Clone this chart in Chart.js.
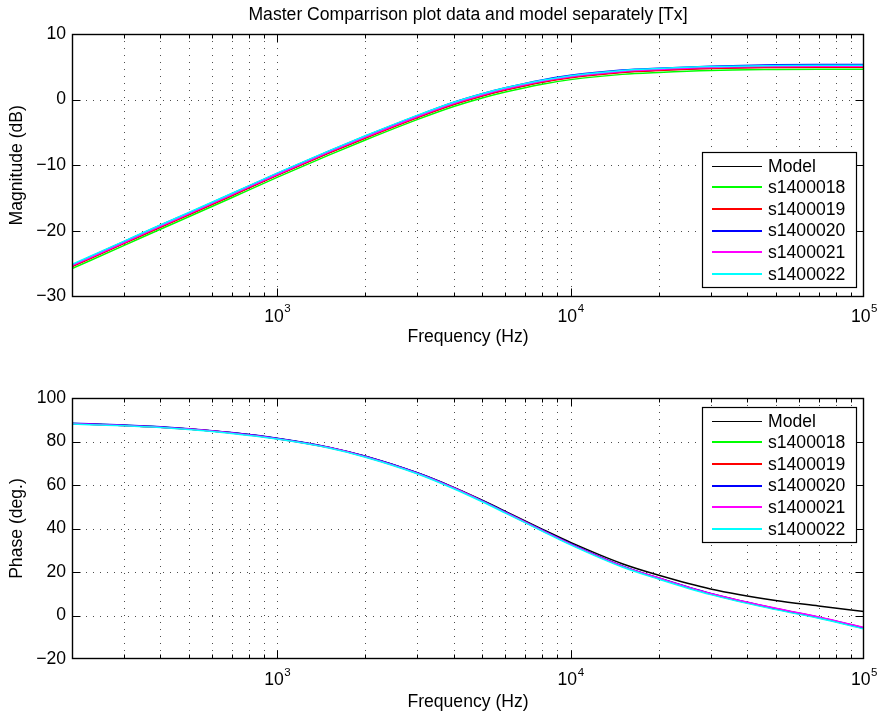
<!DOCTYPE html>
<html><head><meta charset="utf-8">
<script src="https://cdn.jsdelivr.net/npm/chart.js@4"></script>
<style>
html,body{margin:0;padding:0;background:#fff;}
#wrap{position:relative;width:880px;height:719px;background:#fff;}
.c{position:absolute;left:0;width:880px;}
</style></head><body>
<div id="wrap">
<div class="c" style="top:0;height:360px"><canvas id="mag" width="880" height="360"></canvas></div>
<div class="c" style="top:360px;height:359px"><canvas id="pha" width="880" height="359"></canvas></div>
</div>
<script>
// ---------- data ----------
const freq = [200, 300, 400, 500, 700, 1000, 1500, 2000, 3000, 4000, 5000, 6000, 8000, 10000, 15000, 20000, 30000, 50000, 70000, 100000];
const seriesNames = ['Model', 's1400018', 's1400019', 's1400020', 's1400021', 's1400022'];
const seriesColors = ['#000000', '#00ff00', '#ff0000', '#0000ff', '#ff00ff', '#00ffff'];

const magModel = [-25.4, -21.9, -19.4, -17.5, -14.6, -11.5, -8.1, -5.8, -2.7, -0.7, 0.6, 1.5, 2.7, 3.4, 4.2, 4.5, 4.8, 4.95, 5.0, 5.0];
const mag18 = [-25.75, -22.25, -19.75, -17.85, -14.95, -11.85, -8.45, -6.15, -3.05, -1.05, 0.25, 1.15, 2.35, 3.05, 3.85, 4.15, 4.45, 4.6, 4.65, 4.65];
const mag19 = [-25.45, -21.95, -19.45, -17.55, -14.65, -11.55, -8.15, -5.85, -2.75, -0.75, 0.55, 1.45, 2.65, 3.35, 4.15, 4.45, 4.75, 4.9, 4.95, 4.95];
const mag20 = [-25.2, -21.65, -19.15, -17.25, -14.35, -11.25, -7.85, -5.55, -2.45, -0.4, 0.9, 1.8, 3.0, 3.7, 4.5, 4.8, 5.1, 5.3, 5.35, 5.35];
const mag21 = [-25.3, -21.8, -19.3, -17.4, -14.5, -11.4, -8.0, -5.7, -2.6, -0.6, 0.7, 1.6, 2.8, 3.5, 4.3, 4.6, 4.9, 5.05, 5.1, 5.1];
const mag22 = [-25.1, -21.6, -19.1, -17.2, -14.3, -11.2, -7.8, -5.5, -2.4, -0.4, 0.9, 1.8, 2.95, 3.65, 4.45, 4.75, 5.05, 5.2, 5.25, 5.25];

const phaModel = [88.2, 87.4, 86.6, 85.7, 84.0, 81.4, 77.3, 73.2, 65.6, 58.9, 53.0, 47.9, 39.7, 33.6, 23.8, 18.5, 12.2, 6.9, 4.4, 1.8];
const pha18 = [88.3, 87.5, 86.7, 85.8, 84.0, 81.4, 77.3, 73.1, 65.5, 58.7, 52.7, 47.5, 39.2, 32.9, 22.7, 17.1, 10.0, 3.1, -0.9, -5.8];
const pha19 = [88.2, 87.4, 86.6, 85.7, 83.9, 81.3, 77.2, 73.0, 65.4, 58.6, 52.6, 47.4, 39.1, 32.8, 22.6, 17.0, 9.9, 3.0, -1.0, -5.9];
const pha20 = [88.4, 87.6, 86.8, 85.9, 84.1, 81.5, 77.4, 73.2, 65.6, 58.8, 52.8, 47.6, 39.3, 33.0, 22.8, 17.2, 10.1, 3.2, -0.8, -5.7];
const pha21 = [88.2, 87.4, 86.6, 85.7, 83.9, 81.3, 77.2, 73.0, 65.4, 58.6, 52.6, 47.4, 39.1, 32.8, 22.7, 17.2, 10.1, 3.3, -0.7, -5.5];
const pha22 = [88.0, 87.2, 86.4, 85.5, 83.7, 81.1, 77.0, 72.8, 65.2, 58.3, 52.3, 47.1, 38.8, 32.5, 22.3, 16.7, 9.6, 2.7, -1.3, -6.2];

const xMajorTicks = [1000, 10000, 100000];
const xMajorExp = ['3', '4', '5'];
const magTicks = [-30, -20, -10, 0, 10];
const phaTicks = [-20, 0, 20, 40, 60, 80, 100];

// ---------- rendering ----------
const FONT = '"Liberation Sans", Arial, Helvetica, sans-serif';
const FS = 17.6;
const X_MIN = 200, X_MAX = 100000;

function xGridValues() {
  const out = [];
  for (let d = 100; d < X_MAX; d *= 10) {
    for (let m = 1; m <= 9; m++) {
      const v = m * d;
      if (v > X_MIN && v < X_MAX) out.push(v);
    }
  }
  return out;
}

const bodePlugin = {
  id: 'bode',
  beforeDatasetsDraw(chart, args, opts) {
    const { ctx, chartArea: a, scales: { x, y } } = chart;
    ctx.save();
    ctx.strokeStyle = 'rgba(0,0,0,0.7)';
    ctx.lineWidth = 1;
    ctx.setLineDash([1, 6]);
    for (const v of xGridValues()) {
      const px = Math.round(x.getPixelForValue(v)) + 0.5;
      ctx.beginPath(); ctx.moveTo(px, a.top); ctx.lineTo(px, a.bottom); ctx.stroke();
    }
    for (const v of opts.yTicks) {
      if (v <= y.min || v >= y.max) continue;
      const py = Math.round(y.getPixelForValue(v)) + 0.5;
      ctx.beginPath(); ctx.moveTo(a.left, py); ctx.lineTo(a.right, py); ctx.stroke();
    }
    ctx.restore();
  },
  afterDatasetsDraw(chart, args, opts) {
    const { ctx, chartArea: a, scales: { x, y } } = chart;
    const L = Math.round(a.left) + 0.5, R = Math.round(a.right) - 0.5;
    const T = Math.round(a.top) + 0.5, B = Math.round(a.bottom) - 0.5;
    ctx.save();
    ctx.setLineDash([]);
    ctx.strokeStyle = '#000';
    ctx.lineWidth = 1;
    // ticks
    ctx.beginPath();
    for (const v of opts.yTicks) {
      if (v <= y.min || v >= y.max) continue;
      const py = Math.round(y.getPixelForValue(v)) + 0.5;
      ctx.moveTo(L, py); ctx.lineTo(L + 8, py);
      ctx.moveTo(R, py); ctx.lineTo(R - 8, py);
    }
    for (const v of xGridValues()) {
      const px = Math.round(x.getPixelForValue(v)) + 0.5;
      const major = xMajorTicks.includes(v);
      const len = major ? 8 : 4;
      ctx.moveTo(px, B); ctx.lineTo(px, B - len);
      ctx.moveTo(px, T); ctx.lineTo(px, T + len);
    }
    ctx.stroke();
    // frame
    ctx.lineWidth = 1.4;
    ctx.strokeRect(L, T, R - L, B - T);
    // x tick labels 10^n
    ctx.fillStyle = '#000';
    ctx.textBaseline = 'middle';
    ctx.textAlign = 'left';
    xMajorTicks.forEach((v, i) => {
      const px = x.getPixelForValue(v);
      ctx.font = FS + 'px ' + FONT;
      const w1 = ctx.measureText('10').width;
      ctx.font = '11.5px ' + FONT;
      const w2 = ctx.measureText(xMajorExp[i]).width;
      const start = px - (w1 + w2) / 2;
      const cy = a.bottom + opts.xLabelOffset;
      ctx.font = FS + 'px ' + FONT;
      ctx.fillText('10', start, cy);
      ctx.font = '11.5px ' + FONT;
      ctx.fillText(xMajorExp[i], start + w1 + 0.5, cy - 7.5);
    });
    // legend
    const W = 154, H = 135;
    const left = Math.round(a.right - 8 - W);
    const top = Math.round(opts.legendPos === 'se' ? a.bottom - 9.5 - H : a.top + 9);
    ctx.fillStyle = '#fff';
    ctx.fillRect(left, top, W, H);
    ctx.lineWidth = 1.2;
    ctx.strokeStyle = '#000';
    ctx.strokeRect(left + 0.5, top + 0.5, W, H);
    ctx.font = FS + 'px ' + FONT;
    chart.data.datasets.forEach((ds, i) => {
      const cy = top + 13.7 + i * 21.6;
      ctx.strokeStyle = ds.borderColor;
      const thin = i === 0;
      ctx.lineWidth = thin ? 1 : 2;
      const ly = thin ? Math.round(cy) + 0.5 : Math.round(cy);
      ctx.beginPath();
      ctx.moveTo(left + 10, ly);
      ctx.lineTo(left + 60, ly);
      ctx.stroke();
      ctx.fillStyle = '#000';
      ctx.fillText(ds.label, left + 66, cy + 1);
    });
    ctx.restore();
  }
};

function buildDatasets(arrays) {
  return arrays.map((arr, i) => ({
    label: seriesNames[i],
    data: freq.map((f, k) => ({ x: f, y: arr[k] })),
    borderColor: seriesColors[i],
    backgroundColor: seriesColors[i],
    borderWidth: 1.5,
    pointRadius: 0,
    fill: false,
    cubicInterpolationMode: 'monotone',
    order: arrays.length - i
  }));
}

function fmtY(v) {
  return v < 0 ? '\u2212' + Math.abs(v) : String(v);
}

function makeChart(id, o) {
  return new Chart(document.getElementById(id), {
    type: 'line',
    data: { datasets: buildDatasets(o.arrays) },
    options: {
      responsive: false,
      animation: false,
      events: [],
      layout: { padding: { left: 0, right: 16, top: o.padTop, bottom: 0 } },
      plugins: {
        legend: { display: false },
        tooltip: { enabled: false },
        title: o.title ? {
          display: true, text: o.title, color: '#000', fullSize: false,
          font: { family: FONT, size: FS, weight: 'normal' },
          padding: { top: 5, bottom: 7.9 }
        } : { display: false },
        bode: { yTicks: o.yTicks, legendPos: o.legendPos, xLabelOffset: o.xLabelOffset }
      },
      scales: {
        x: {
          type: 'logarithmic', min: X_MIN, max: X_MAX,
          ticks: { display: false },
          grid: { display: false, drawTicks: false },
          border: { display: false },
          title: {
            display: true, text: 'Frequency (Hz)', color: '#000',
            font: { family: FONT, size: FS }, padding: { top: 0, bottom: o.xTitlePad }
          },
          afterFit(s) { s.height = o.xHeight; }
        },
        y: {
          type: 'linear', min: o.yTicks[0], max: o.yTicks[o.yTicks.length - 1],
          ticks: {
            stepSize: o.yTicks[1] - o.yTicks[0], color: '#000', padding: 6,
            font: { family: FONT, size: FS }, callback: v => fmtY(v)
          },
          grid: { display: false, drawTicks: false },
          border: { display: false },
          title: {
            display: true, text: o.yTitle, color: '#000',
            font: { family: FONT, size: FS }, padding: { top: 6.9, bottom: 0 }
          },
          afterFit(s) { s.width = 72; }
        }
      }
    },
    plugins: [bodePlugin]
  });
}

makeChart('mag', {
  arrays: [magModel, mag18, mag19, mag20, mag21, mag22],
  title: 'Master Comparrison plot data and model separately [Tx]',
  padTop: 0, yTicks: magTicks, yTitle: 'Magnitude (dB)',
  legendPos: 'se', xHeight: 63.5, xTitlePad: 11.9, xLabelOffset: 20.2
});
makeChart('pha', {
  arrays: [phaModel, pha18, pha19, pha20, pha21, pha22],
  title: null,
  padTop: 38, yTicks: phaTicks, yTitle: 'Phase (deg.)',
  legendPos: 'ne', xHeight: 60, xTitlePad: 6.4, xLabelOffset: 21.5
});
</script>
</body></html>
